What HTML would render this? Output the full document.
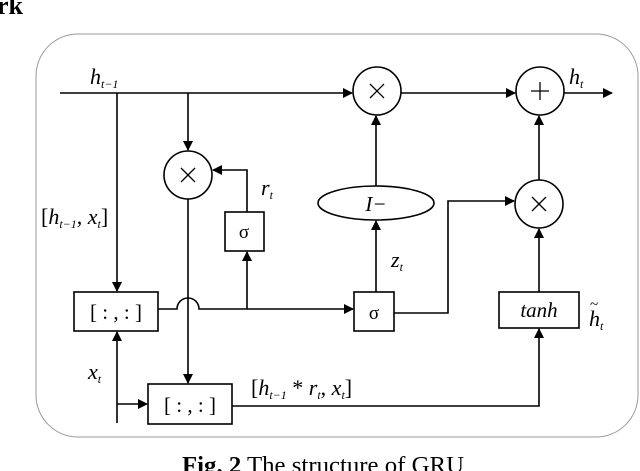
<!DOCTYPE html>
<html><head><meta charset="utf-8"><style>
html,body{margin:0;padding:0;background:#fff;}
svg{display:block;}
text{font-family:"Liberation Serif",serif;fill:#000;}
.i{font-style:italic;}
</style></head><body>
<svg width="640" height="471" viewBox="0 0 640 471" xmlns="http://www.w3.org/2000/svg">
<defs>
<marker id="a" markerWidth="10" markerHeight="10" refX="9" refY="5" orient="auto" markerUnits="userSpaceOnUse">
<path d="M0,0 L10,5 L0,10 Z" fill="#000"/>
</marker>
</defs>
<text x="-3" y="14" font-size="26" font-weight="bold">rk</text>
<rect x="36" y="34" width="602" height="403" rx="42" ry="42" fill="none" stroke="#999" stroke-width="1"/>
<g stroke="#000" stroke-width="1.6" fill="none">
<line x1="60" y1="93" x2="352" y2="93" marker-end="url(#a)"/>
<line x1="401" y1="93" x2="515" y2="93" marker-end="url(#a)"/>
<line x1="564" y1="93" x2="612" y2="93" marker-end="url(#a)"/>
<line x1="117" y1="93" x2="117" y2="291" marker-end="url(#a)"/>
<line x1="188" y1="93" x2="188" y2="150" marker-end="url(#a)"/>
<circle cx="377" cy="91" r="24"/>
<circle cx="540" cy="91" r="24"/>
<circle cx="188" cy="175" r="24"/>
<circle cx="539" cy="204" r="24"/>
<ellipse cx="376" cy="203" rx="58" ry="17"/>
<rect x="74" y="292" width="84" height="39"/>
<rect x="148" y="384" width="84" height="40"/>
<rect x="225" y="212" width="39" height="39"/>
<rect x="354" y="292" width="40" height="39"/>
<rect x="499" y="292" width="80" height="36"/>
<polyline points="247,212 247,170 213,170" marker-end="url(#a)"/>
<path d="M158,309 H177 A11,11 0 0 1 199,309 H353" marker-end="url(#a)"/>
<line x1="247" y1="309" x2="247" y2="252" marker-end="url(#a)"/>
<line x1="117" y1="423" x2="117" y2="332" marker-end="url(#a)"/>
<line x1="117" y1="404" x2="147" y2="404" marker-end="url(#a)"/>
<line x1="188" y1="199" x2="188" y2="383" marker-end="url(#a)"/>
<line x1="376" y1="292" x2="376" y2="221" marker-end="url(#a)"/>
<line x1="376" y1="186" x2="376" y2="116" marker-end="url(#a)"/>
<polyline points="394,313 448,313 448,201 514,201" marker-end="url(#a)"/>
<line x1="539" y1="292" x2="539" y2="229" marker-end="url(#a)"/>
<line x1="539" y1="180" x2="539" y2="116" marker-end="url(#a)"/>
<polyline points="232,406 539,406 539,329" marker-end="url(#a)"/>
<path d="M370,84 L384,98 M384,84 L370,98" stroke-width="1.3"/>
<path d="M181,168 L195,182 M195,168 L181,182" stroke-width="1.3"/>
<path d="M532,197 L546,211 M546,197 L532,211" stroke-width="1.3"/>
<path d="M540,82 V100 M531,91 H549" stroke-width="1.3"/>
</g>
<text x="90" y="84" font-size="22" class="i">h<tspan font-size="12" dy="4">t−1</tspan></text>
<text x="569" y="84" font-size="22" class="i">h<tspan font-size="12" dy="4">t</tspan></text>
<text x="261" y="195" font-size="22" class="i">r<tspan font-size="12" dy="4">t</tspan></text>
<text x="391" y="267" font-size="22" class="i">z<tspan font-size="12" dy="4">t</tspan></text>
<text x="88" y="379" font-size="22" class="i">x<tspan font-size="12" dy="4">t</tspan></text>
<text x="41" y="224" font-size="22">[<tspan class="i">h</tspan><tspan font-size="12" dy="4" class="i">t−1</tspan><tspan dy="-4">, </tspan><tspan class="i">x</tspan><tspan font-size="12" dy="4" class="i">t</tspan><tspan dy="-4">]</tspan></text>
<text x="251" y="395" font-size="22">[<tspan class="i">h</tspan><tspan font-size="12" dy="4" class="i">t−1</tspan><tspan dy="-4"> * </tspan><tspan class="i">r</tspan><tspan font-size="12" dy="4" class="i">t</tspan><tspan dy="-4">, </tspan><tspan class="i">x</tspan><tspan font-size="12" dy="4" class="i">t</tspan><tspan dy="-4">]</tspan></text>
<text x="116" y="319" font-size="21" text-anchor="middle">[ : , : ]</text>
<text x="190" y="412" font-size="21" text-anchor="middle">[ : , : ]</text>
<text x="244" y="238" font-size="19" text-anchor="middle">σ</text>
<text x="374" y="319" font-size="19" text-anchor="middle">σ</text>
<text x="539" y="317" font-size="21" class="i" text-anchor="middle">tanh</text>
<text x="376" y="211" font-size="21" class="i" text-anchor="middle">I−</text>
<text x="589" y="326" font-size="22" class="i">h<tspan font-size="12" dy="4">t</tspan></text>
<text x="590" y="309" font-size="15">~</text>
<text x="182" y="473" font-size="24" textLength="282" lengthAdjust="spacingAndGlyphs"><tspan font-weight="bold">Fig. 2</tspan> The structure of GRU</text>
</svg>
</body></html>
